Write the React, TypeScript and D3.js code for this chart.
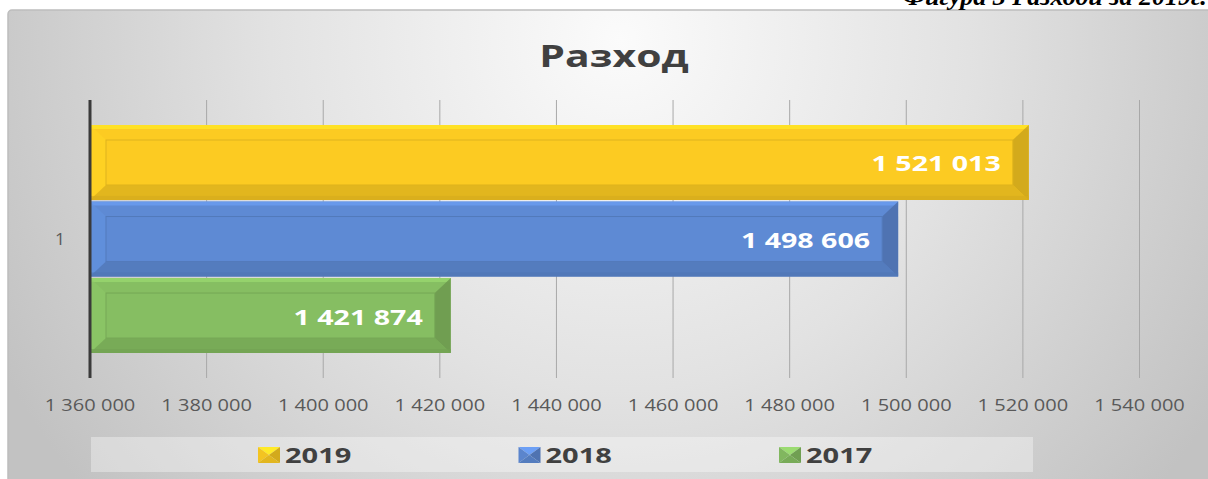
import React from "react";
import * as d3 from "d3";

const categories = ["1"];
const seriesNames = ["2019", "2018", "2017"];
const seriesValues = [1521013, 1498606, 1421874];
const seriesColors = ["#FCCB22", "#5E8AD4", "#86BE62"];
const tickValues = [1360000, 1380000, 1400000, 1420000, 1440000, 1460000, 1480000, 1500000, 1520000, 1540000];
const titleText = "Разход";
const captionText = "Фигура 3 Разходи за 2019г.";

const W = 1208;
const H = 479;

const locale = d3.formatLocale({ decimal: ",", thousands: " ", grouping: [3], currency: ["", ""] });
const fmt = locale.format(",d");

function SText({ x, y, sx = 1.25, anchor = "middle", children, ...rest }: any) {
  return (
    <text transform={`translate(${x},${y}) scale(${sx},1)`} textAnchor={anchor} {...rest}>
      {children}
    </text>
  );
}

function Bevel({ x0, x1, y0, y1, color, bx = 16, by = 15 }: any) {
  const c = d3.color(color)!;
  const top = c.brighter(0.35).formatHex();
  const left = c.brighter(0.15).formatHex();
  const right = c.darker(0.6).formatHex();
  const bottom = c.darker(0.45).formatHex();
  const ix0 = x0 + bx, ix1 = x1 - bx, iy0 = y0 + by, iy1 = y1 - by;
  const pts = (a: number[][]) => a.map((p) => p.join(",")).join(" ");
  return (
    <g>
      <rect x={x0} y={y0} width={x1 - x0} height={y1 - y0} fill={color} />
      <rect x={x0} y={y0} width={x1 - x0} height={4} fill={top} opacity={0.8} />
      <polygon points={pts([[x0, y0], [ix0, iy0], [ix0, iy1], [x0, y1]])} fill={left} opacity={0.6} />
      <polygon points={pts([[x1, y0], [x1, y1], [ix1, iy1], [ix1, iy0]])} fill={right} opacity={0.85} />
      <polygon points={pts([[x0, y1], [ix0, iy1], [ix1, iy1], [x1, y1]])} fill={bottom} opacity={0.7} />
      <rect x={x0} y={y1 - 4} width={x1 - x0} height={4} fill={bottom} opacity={0.7} />
      <rect x={ix0} y={iy0} width={ix1 - ix0} height={iy1 - iy0} fill={color} stroke={c.darker(0.35).formatHex()} strokeWidth={1} />
    </g>
  );
}

function Marker({ x, y, color }: any) {
  const c = d3.color(color)!;
  const w = 22, h = 16;
  const cx = x + w / 2, cy = y + h / 2;
  const p = (a: number[][]) => a.map((q) => q.join(",")).join(" ");
  return (
    <g>
      <polygon points={p([[x, y], [x + w, y], [cx, cy]])} fill={c.brighter(0.4).formatHex()} />
      <polygon points={p([[x, y], [cx, cy], [x, y + h]])} fill={c.darker(0.1).formatHex()} />
      <polygon points={p([[x + w, y], [x + w, y + h], [cx, cy]])} fill={c.darker(0.5).formatHex()} />
      <polygon points={p([[x, y + h], [cx, cy], [x + w, y + h]])} fill={c.darker(0.3).formatHex()} />
    </g>
  );
}

export default function App() {
  const x = d3.scaleLinear().domain([1360000, 1540000]).range([90, 1139.5]);
  const y = d3.scaleBand().domain(seriesNames).range([125, 353]).paddingInner(0.02);
  const catY = d3.scaleBand().domain(categories).range([100, 378]);
  const legendX = d3.scalePoint().domain(seriesNames).range([258, 779]);

  return (
    <svg
      width={W}
      height={H}
      style={{ position: "absolute", left: 0, top: 0, display: "block" }}
      fontFamily="'Open Sans', sans-serif"
    >
      <defs>
        <radialGradient id="bg" gradientUnits="userSpaceOnUse" cx={620} cy={40} r={700}>
          <stop offset="0" stopColor="#fbfbfb" />
          <stop offset="0.5" stopColor="#e2e2e2" />
          <stop offset="1" stopColor="#c2c2c2" />
        </radialGradient>
      </defs>
      <rect x={0} y={0} width={W} height={H} fill="#ffffff" />
      <rect x={8} y={10} width={W + 10} height={H + 10} rx={4} fill="url(#bg)" stroke="#bdbdbd" strokeWidth={1.5} />

      <text
        x={903}
        y={5}
        fontFamily="'Liberation Serif', serif"
        fontStyle="italic"
        fontWeight="bold"
        fontSize={26}
        fill="#000"
      >
        {captionText}
      </text>

      <SText x={614} y={67} sx={1.32} fontSize={31} fontWeight="bold" fill="#404040">
        {titleText}
      </SText>

      {tickValues.map((t) => (
        <line key={t} x1={x(t)} x2={x(t)} y1={100} y2={378} stroke="#a8a8a8" strokeWidth={1} />
      ))}

      {seriesNames.map((s, i) => (
        <Bevel
          key={s}
          x0={x(1360000)}
          x1={x(seriesValues[i])}
          y0={y(s)!}
          y1={y(s)! + y.bandwidth()}
          color={seriesColors[i]}
        />
      ))}

      <line x1={x(1360000)} x2={x(1360000)} y1={100} y2={378} stroke="#3a3a3a" strokeWidth={3} />

      {seriesNames.map((s, i) => (
        <SText
          key={s}
          x={x(seriesValues[i]) - 28}
          y={y(s)! + y.bandwidth() / 2 + 9}
          sx={1.3}
          anchor="end"
          fontSize={22}
          fontWeight="bold"
          fill="#ffffff"
        >
          {fmt(seriesValues[i])}
        </SText>
      ))}

      {tickValues.map((t) => (
        <SText key={t} x={x(t)} y={411} sx={1.18} fontSize={17} fill="#595959">
          {fmt(t)}
        </SText>
      ))}

      {categories.map((c) => (
        <SText key={c} x={60} y={catY(c)! + catY.bandwidth() / 2 + 6} sx={1.1} fontSize={16} fill="#595959">
          {c}
        </SText>
      ))}

      <rect x={91} y={437} width={942} height={35} fill="#ffffff" opacity={0.35} />
      {seriesNames.map((s, i) => (
        <g key={s}>
          <Marker x={legendX(s)!} y={447} color={seriesColors[i]} />
          <SText x={legendX(s)! + 27} y={463} sx={1.32} anchor="start" fontSize={22} fontWeight="bold" fill="#404040">
            {s}
          </SText>
        </g>
      ))}
    </svg>
  );
}
